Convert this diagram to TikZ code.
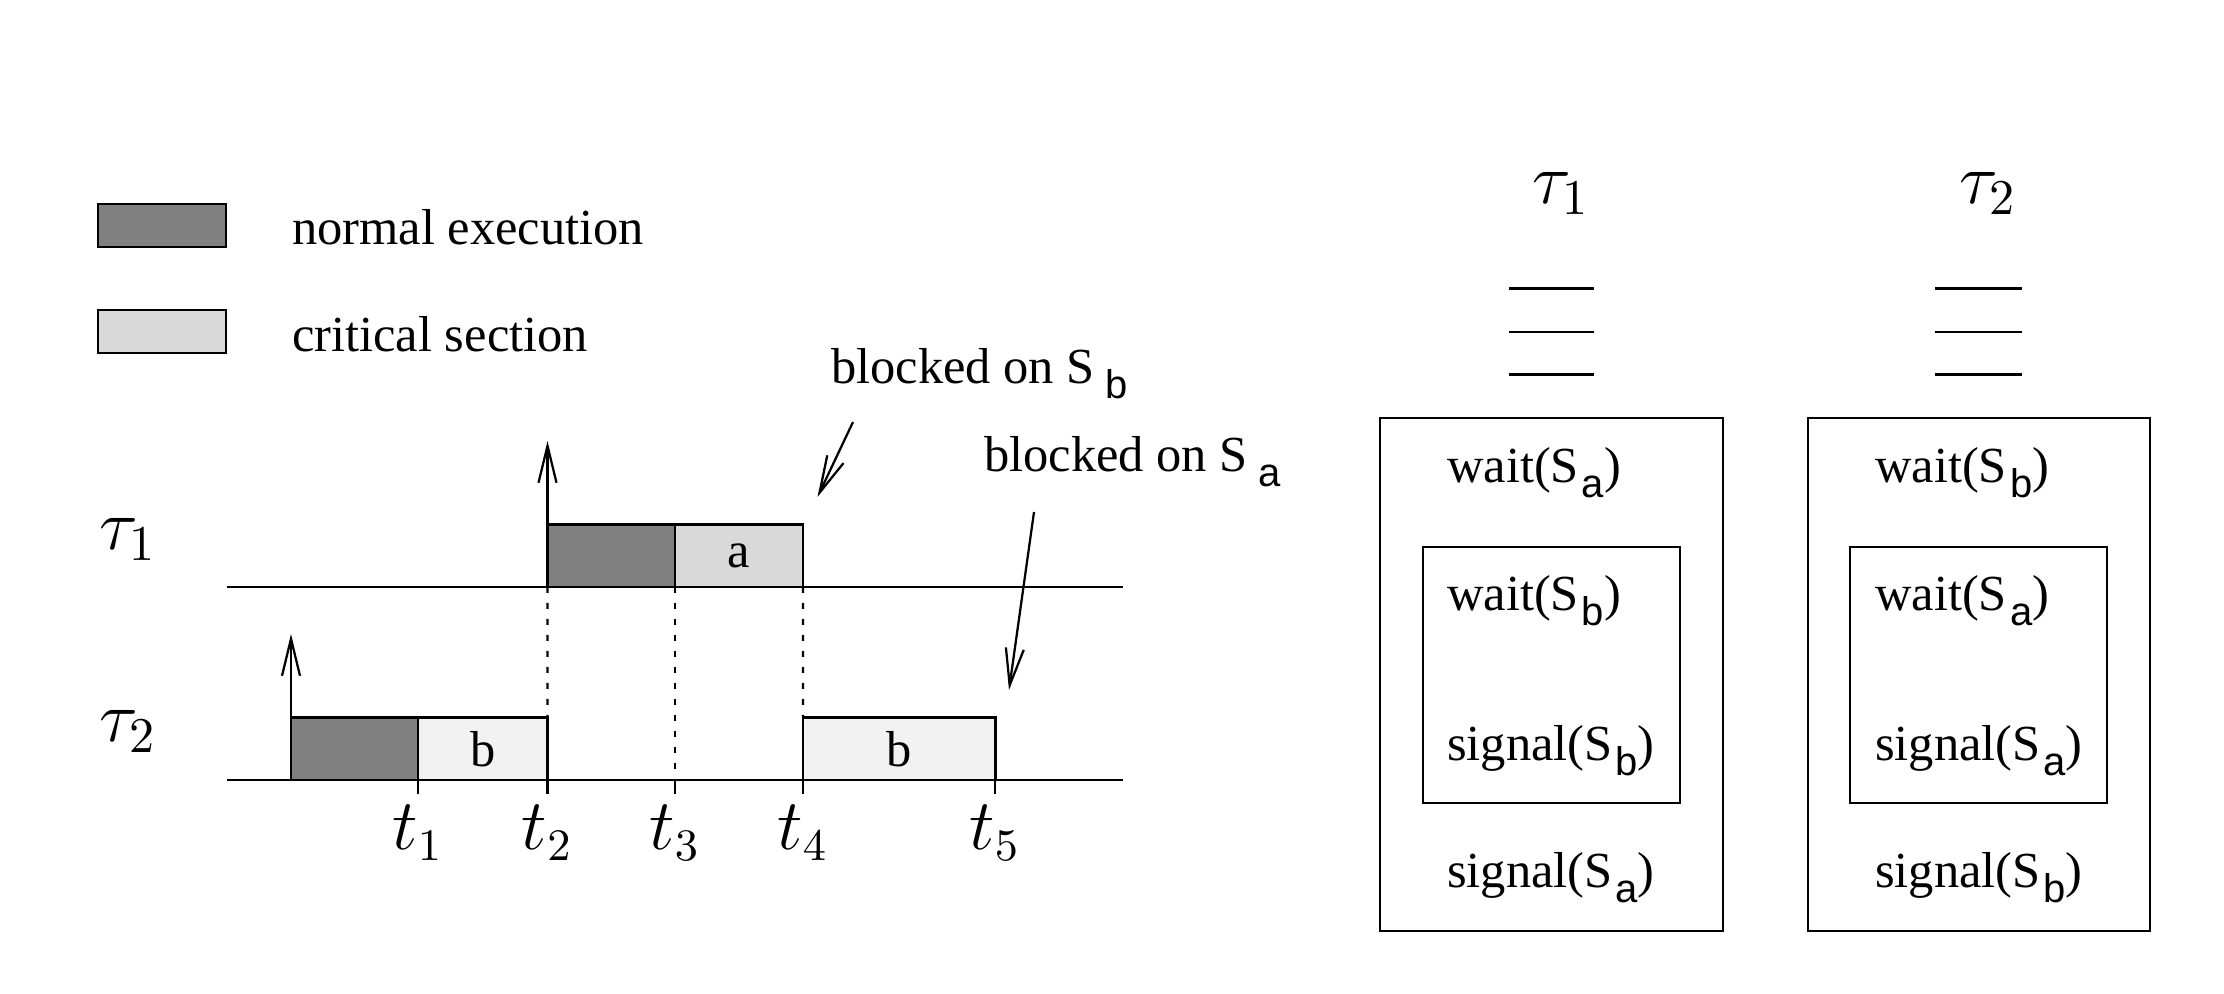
\documentclass[tikz,border=0pt]{standalone}
\usepackage{fontspec}
\setmainfont{Liberation Serif}
\newfontfamily\subsf{Liberation Sans}
\usetikzlibrary{arrows.meta}
\definecolor{darkg}{HTML}{808080}
\definecolor{critg}{HTML}{D9D9D9}
\definecolor{paleg}{HTML}{F2F2F2}
\newcommand\semsub[2][0.6pt]{\kern#1\raisebox{-3pt}{\fontsize{8}{9}\selectfont\subsf #2}}
\begin{document}
\begin{tikzpicture}[x=0.2pt,y=-0.2pt, line width=0.45pt,
  txt/.style={inner sep=0pt, anchor=base west, font=\fontsize{10.1}{12}\selectfont},
  blk/.style={draw, line width=0.5pt, inner sep=0pt, outer sep=0pt, anchor=south west, minimum height=12.5pt, font=\fontsize{10.1}{12}\selectfont},
  darkbox/.style={blk, fill=darkg},
  critbox/.style={blk, fill=critg},
  palebox/.style={blk, fill=paleg},
  legbox/.style={draw, line width=0.5pt, inner sep=0pt, outer sep=0pt, anchor=north west, minimum width=25.6pt, minimum height=8.6pt},
  frame/.style={draw, inner sep=0pt, outer sep=0pt, anchor=north west},
  arr/.style={-{Straight Barb[length=7.4pt,width=3.6pt]}},
  dots/.style={dash pattern=on 1.2pt off 2pt},
  mlab/.style={inner sep=0pt, anchor=base west, font=\fontsize{14}{16}\selectfont},
  tlab/.style={inner sep=0pt, anchor=base, font=\fontsize{13.5}{15}\selectfont}
]
\useasboundingbox (0,0) rectangle (2224,994);

% legend
\node[legbox, fill=darkg] (legN) at (98,204) {};
\node[legbox, fill=critg] (legC) at (98,310) {};
\node[txt] (legNt) at (291,245) {normal execution};
\node[txt] (legCt) at (291,352) {critical section};

% task labels
\node[mlab] (tau1) at (98,550) {$\tau_1$};
\node[mlab] (tau2) at (98,742) {$\tau_2$};

% time lines
\coordinate (l1s) at (227,587); \coordinate (l1e) at (1123,587);
\coordinate (l2s) at (227,780); \coordinate (l2e) at (1123,780);
\draw (l1s) -- (l1e);
\draw (l2s) -- (l2e);

% tau1 execution
\node[darkbox, minimum width=25.5pt] (d1) at (547.5,587) {};
\node[critbox, minimum width=25.6pt] (a1) at (675,587) {a};
% tau2 execution
\node[darkbox, minimum width=25.4pt] (d2) at (291,780) {};
\node[palebox, minimum width=25.9pt] (b1) at (418,780) {b};
\node[palebox, minimum width=38.5pt] (b2) at (803,780) {b};

% release arrows
\coordinate (r1top) at (547.5,441);
\coordinate (r2top) at (291,634);
\draw[arr] (d1.south west) -- (r1top);
\draw[arr] (d2.north west) -- (r2top);

% dotted guides
\draw[dots] (d1.south west) -- (b1.north east);
\coordinate (t3low) at (675,780);
\draw[dots] (a1.south west) -- (t3low);
\draw[dots] (a1.south east) -- (b2.north west);

% ticks and time labels
\foreach \x/\n in {418/1,547.5/2,675/3,803/4,995/5}{
  \coordinate (tkA\n) at (\x,780);
  \coordinate (tkB\n) at (\x,794);
  \draw (tkA\n) -- (tkB\n);
  \node[tlab] (tl\n) at (\x,850) {$t_\n$};
}

% blocked annotations
\node[txt] (blkb) at (830,384) {blocked on S\semsub[2.2pt]{b}};
\node[txt] (blka) at (983,472) {blocked on S\semsub[2.2pt]{a}};
\coordinate (bbS) at (853,422); \coordinate (bbE) at (817.5,497);
\coordinate (baS) at (1034,512); \coordinate (baE) at (1009,690);
\draw[arr] (bbS) -- (bbE);
\draw[arr] (baS) -- (baE);

% right side: code of the two tasks
\node[mlab] (rt1) at (1531,204) {$\tau_1$};
\node[mlab] (rt2) at (1958,204) {$\tau_2$};
\foreach \y in {288.5,332,374.5}{
  \draw (1509,\y) -- (1594,\y);
  \draw (1935,\y) -- (2022,\y);
}
\node[frame, minimum width=68.6pt, minimum height=102.6pt] (o1) at (1380,418) {};
\node[frame, minimum width=51.4pt, minimum height=51.2pt] (i1) at (1423,547) {};
\node[frame, minimum width=68.4pt, minimum height=102.6pt] (o2) at (1808,418) {};
\node[frame, minimum width=51.4pt, minimum height=51.2pt] (i2) at (1850,547) {};

\node[txt] (c11) at (1446,483) {wait(S\semsub{a})};
\node[txt] (c12) at (1446,611) {wait(S\semsub{b})};
\node[txt] (c13) at (1446,761) {signal(S\semsub{b})};
\node[txt] (c14) at (1446,888) {signal(S\semsub{a})};

\node[txt] (c21) at (1874,483) {wait(S\semsub{b})};
\node[txt] (c22) at (1874,611) {wait(S\semsub{a})};
\node[txt] (c23) at (1874,761) {signal(S\semsub{a})};
\node[txt] (c24) at (1874,888) {signal(S\semsub{b})};
\end{tikzpicture}
\end{document}
